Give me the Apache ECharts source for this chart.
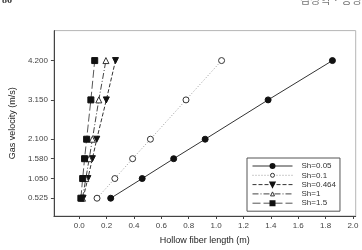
<!DOCTYPE html>
<html>
<head>
<meta charset="utf-8">
<script src="https://cdn.jsdelivr.net/npm/echarts@6/dist/echarts.min.js"></script>
<style>
html, body { margin: 0; padding: 0; background: #fff; }
#chart { width: 362px; height: 250px; }
</style>
</head>
<body>
<div id="chart"></div>
<script>
// gas velocity levels (y) and fibre lengths (x) for each Sh
var velocity = [0.525, 1.05, 1.58, 2.1, 3.15, 4.2];
var velocityTicks = [0.525, 1.05, 1.58, 2.1, 3.15, 4.2];
var lengthTicks = [0, 0.2, 0.4, 0.6, 0.8, 1.0, 1.2, 1.4, 1.6, 1.8, 2.0];
var sh005 = [0.23, 0.46, 0.69, 0.92, 1.38, 1.85];
var sh01 = [0.13, 0.26, 0.39, 0.52, 0.78, 1.04];
var sh0464 = [0.028, 0.063, 0.096, 0.128, 0.198, 0.265];
var sh1 = [0.024, 0.048, 0.073, 0.096, 0.143, 0.195];
var sh15 = [0.012, 0.025, 0.039, 0.054, 0.085, 0.113];

function pairs(xs) {
    return xs.map(function(x, i) { return [x, velocity[i]]; });
}

var font = 'Liberation Sans, Arial, sans-serif';
var openMark = { color: '#fff', borderColor: '#333', borderWidth: 1 };
var myChart = echarts.init(document.getElementById('chart'));

var option = {
    animation: false,
    textStyle: { fontFamily: font },
    title: [
        { text: '86', left: 2, top: -5, padding: 0,
          textStyle: { fontSize: 10, fontWeight: 'bold', fontFamily: 'Liberation Serif', color: '#333' } },
        { text: '김성혁 · 송명', left: 300, top: -6, padding: 0,
          textStyle: { fontSize: 11, fontWeight: 'normal', fontFamily: 'Noto Sans CJK KR', color: '#777' } }
    ],
    grid: {
        left: 42.7,
        right: 6.3,
        top: 30.6,
        bottom: 33.1,
        show: true,
        borderColor: '#b5b5b5',
        borderWidth: 1
    },
    legend: {
        orient: 'vertical',
        left: 247,
        top: 158,
        itemWidth: 40,
        itemHeight: 5,
        itemGap: 1.3,
        padding: [4, 4, 4, 5],
        borderColor: '#555',
        borderWidth: 1,
        lineStyle: { width: 1 },
        textStyle: { fontSize: 8, lineHeight: 8, color: '#333', padding: [0, 0, 0, 4] },
        data: [
            'Sh=0.05',
            { name: 'Sh=0.1', itemStyle: openMark },
            'Sh=0.464',
            { name: 'Sh=1', itemStyle: openMark },
            'Sh=1.5'
        ]
    },
    xAxis: {
        type: 'value',
        min: -0.185,
        max: 2.02,
        name: 'Hollow fiber length (m)',
        nameLocation: 'middle',
        nameGap: 20,
        nameTextStyle: { fontSize: 9, color: '#222' },
        splitLine: { show: false },
        axisLine: { onZero: false, lineStyle: { color: '#444' } },
        axisTick: { customValues: lengthTicks, length: 3, lineStyle: { color: '#444' } },
        axisLabel: {
            customValues: lengthTicks,
            fontSize: 8,
            color: '#444',
            margin: 6,
            formatter: function(v) { return v.toFixed(1); }
        }
    },
    yAxis: {
        type: 'value',
        min: 0.05,
        max: 5,
        name: 'Gas velocity (m/s)',
        nameLocation: 'middle',
        nameGap: 31,
        nameTextStyle: { fontSize: 9, color: '#222' },
        splitLine: { show: false },
        axisLine: { show: true, onZero: false, lineStyle: { color: '#444' } },
        axisTick: { show: true, customValues: velocityTicks, length: 3, lineStyle: { color: '#444' } },
        axisLabel: {
            customValues: velocityTicks,
            fontSize: 8,
            color: '#444',
            margin: 6,
            formatter: function(v) { return v.toFixed(3); }
        }
    },
    series: [
        {
            name: 'Sh=0.05', type: 'line', data: pairs(sh005),
            symbol: 'circle', symbolSize: 6,
            lineStyle: { color: '#333', width: 1, type: 'solid' },
            itemStyle: { color: '#111', borderColor: '#111', borderWidth: 1 }
        },
        {
            name: 'Sh=0.1', type: 'line', data: pairs(sh01),
            symbol: 'circle', symbolSize: 6,
            lineStyle: { color: '#999', width: 1, type: [1, 2] },
            itemStyle: openMark
        },
        {
            name: 'Sh=0.464', type: 'line', data: pairs(sh0464),
            symbol: 'triangle', symbolRotate: 180, symbolSize: 6,
            lineStyle: { color: '#333', width: 1, type: [4, 2] },
            itemStyle: { color: '#111', borderColor: '#111', borderWidth: 1 }
        },
        {
            name: 'Sh=1', type: 'line', data: pairs(sh1),
            symbol: 'triangle', symbolSize: 6,
            lineStyle: { color: '#444', width: 1, type: [6, 2, 1, 2] },
            itemStyle: openMark
        },
        {
            name: 'Sh=1.5', type: 'line', data: pairs(sh15),
            symbol: 'rect', symbolSize: 6,
            lineStyle: { color: '#555', width: 1, type: [8, 3] },
            itemStyle: { color: '#111', borderColor: '#111', borderWidth: 1 }
        }
    ]
};
myChart.setOption(option);
</script>
</body>
</html>
